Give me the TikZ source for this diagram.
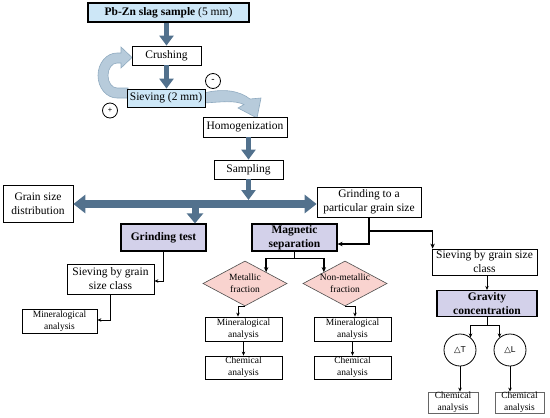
\documentclass[tikz,border=0pt]{standalone}
\usepackage{fontspec}
\setmainfont{Liberation Serif}[BoldFont={Liberation Serif Bold}]
\newfontfamily\dejavu{DejaVu Sans}
\newfontfamily\lsans{Liberation Sans}
\usetikzlibrary{arrows.meta,shapes.geometric,calc}
\definecolor{dark}{HTML}{52718D}
\definecolor{lblue}{HTML}{CDE7F7}
\definecolor{lav}{HTML}{D3D1EA}
\definecolor{pinkf}{HTML}{F9D3CF}
\definecolor{curvef}{HTML}{B7CBDB}
\definecolor{curved}{HTML}{8FAAC0}
\newcommand{\bigf}{\fontsize{11.5}{14}\selectfont}
\newcommand{\smallf}{\fontsize{9.5}{12}\selectfont}
\tikzset{
  box/.style={draw, line width=0.8pt, fill=white, inner sep=0pt, align=center, font=\bigf},
  sbox/.style={draw, line width=0.8pt, fill=white, inner sep=0pt, align=center, font=\smallf},
  gbox/.style={draw=black!60, line width=0.8pt, fill=white, inner sep=0pt, align=center, font=\smallf},
  purp/.style={box, fill=lav, line width=1.2pt, font=\bigf\bfseries},
  dia/.style={diamond, draw=black!70, line width=0.6pt, fill=pinkf, inner sep=0pt},
  circ/.style={circle, draw, line width=0.8pt, inner sep=0pt, minimum size=32pt, font=\lsans\fontsize{8.5}{10}\selectfont},
  pm/.style={circle, draw, line width=0.8pt, inner sep=0pt, minimum size=15pt, font=\lsans\fontsize{7.5}{8}\selectfont},
  fat/.style={draw=dark, line width=5pt, -{Triangle[width=14pt,length=10pt]}},
  fatter/.style={draw=dark, line width=7.5pt, {Triangle[width=18pt,length=12pt]}-{Triangle[width=18pt,length=12pt]}},
  fatdown/.style={draw=dark, line width=7pt, -{Triangle[width=16pt,length=10pt]}},
  conn/.style={draw, line width=1pt, -{Stealth[length=4pt,width=3.5pt]}},
  connb/.style={draw, line width=1.4pt, -{Stealth[length=5pt,width=4.5pt]}},
}
\begin{document}
\begin{tikzpicture}[x=1pt,y=-1pt]
\useasboundingbox (0,0) rectangle (550,418);
% curved light arrows (behind boxes)
\filldraw[fill=curvef, draw=curved, line width=0.6pt]
  (128,88) -- (117,88) arc[start angle=270, end angle=90, x radius=9pt, y radius=12.5pt]
  -- (121,63) -- (121,68) -- (132,57.5) -- (121,47) -- (121,53) -- (117,53)
  arc[start angle=90, end angle=270, x radius=19pt, y radius=22.5pt] -- (128,98) -- cycle;
\filldraw[fill=curvef, draw=curved, line width=0.6pt]
  (204,93) .. controls (224,88) and (240,91) .. (250,99) -- (261,98) -- (257,118)
  -- (238,108) -- (244,104.5) .. controls (234,100) and (222,102) .. (204,103) -- cycle;
% nodes
\node[box, fill=lblue, line width=1.5pt, minimum width=161pt, minimum height=19pt] (pb) at (168.5,12.5) {\textbf{Pb-Zn slag sample} (5 mm)};
\node[box, minimum width=69pt, minimum height=19pt] (crush) at (166.5,55.5) {Crushing};
\node[box, fill=lblue, minimum width=78pt, minimum height=18pt] (sieve) at (166,98) {Sieving (2 mm)};
\node[box, minimum width=84pt, minimum height=20pt] (homog) at (245,127) {Homogenization};
\node[box, minimum width=69pt, minimum height=19pt] (samp) at (248.5,169.5) {Sampling};
\node[box, minimum width=70pt, minimum height=37pt] (gsd) at (38,203.5) {Grain size\\distribution};
\node[box, minimum width=104pt, minimum height=30pt] (gpart) at (369,202) {Grinding to a\\particular grain size};
\node[purp, minimum width=85pt, minimum height=27pt] (gtest) at (163.5,237.5) {Grinding test};
\node[purp, minimum width=85pt, minimum height=27pt] (magsep) at (294.5,237.5) {Magnetic\\separation};
\node[box, minimum width=87pt, minimum height=30pt] (sievL) at (110.5,279) {Sieving by grain\\size class};
\node[sbox, minimum width=75pt, minimum height=24pt] (minL) at (59.5,321) {Mineralogical\\analysis};
\node[dia, minimum width=84pt, minimum height=45pt,
  label={[font=\smallf, align=center]center:Metallic\\fraction}] (metal) at (245,283.5) {};
\node[dia, minimum width=84pt, minimum height=45pt,
  label={[font=\smallf, align=center]center:Non-metallic\\fraction}] (nonmetal) at (345,283.5) {};
\node[sbox, minimum width=77pt, minimum height=24pt] (min1) at (243.5,329) {Mineralogical\\analysis};
\node[sbox, minimum width=77pt, minimum height=24pt] (min2) at (352.5,329) {Mineralogical\\analysis};
\node[sbox, minimum width=77pt, minimum height=23pt] (chem1) at (243.5,367.5) {Chemical\\analysis};
\node[sbox, minimum width=77pt, minimum height=23pt] (chem2) at (352.5,367.5) {Chemical\\analysis};
\node[box, minimum width=105pt, minimum height=26pt] (sievR) at (484.5,262) {Sieving by grain size\\class};
\node[purp, minimum width=100pt, minimum height=26pt] (grav) at (487,303.5) {Gravity\\concentration};
\node[circ] (dT) at (460,350) {{\dejavu △}T};
\node[circ] (dL) at (510,350) {{\dejavu △}L};
\node[gbox, minimum width=50pt, minimum height=21pt] (chem3) at (453,402.5) {Chemical\\analysis};
\node[gbox, minimum width=49pt, minimum height=21pt] (chem4) at (519.5,402.5) {Chemical\\analysis};
\node[pm] (plus) at (110,110.5) {+};
\node[pm, font=\lsans\fontsize{10}{10}\selectfont] (minus) at (213,81) {-};
% thick arrows
\draw[fat] (pb.south -| crush.south) -- (crush.north);
\draw[fat] (crush.south) -- (crush.south |- sieve.north);
\draw[fat] (homog.south -| samp.south) -- (samp.north);
\coordinate (barmid) at (248.5,204);
\coordinate (bartop) at (248.5,200);
\coordinate (gtdrop) at (195,204);
\draw[fatter] (gsd.east |- barmid) -- (gpart.west |- barmid);
\draw[fat] (samp.south) -- (bartop);
\draw[fatdown] (gtdrop) -- (gtdrop |- gtest.north);
% thin connectors
\coordinate (gp1) at (370,231);
\draw[connb] (gpart.south) |- ($(magsep.east)+(0,6.5)$);
\draw[connb] (gp1) -| ($(sievR.north west)+(1,0)$);
\draw[conn] (sievR.south -| grav.north) -- (grav.north);
\draw[conn] (grav.south) -- ++(0,8) coordinate (gs) -| (dT.50);
\draw[conn] (gs) -| (dL.130);
\draw[conn] (dT.south) -- (dT.south |- chem3.north);
\draw[conn] (dL.south) -- (dL.south |- chem4.north);
\draw[connb] (magsep.south) -- ++(0,7) coordinate (ms) -| (metal.north east);
\draw[connb] (ms) -| (nonmetal.north west);
\draw[conn] (metal.south) -| ($(min1.north)+(-5.5,0)$);
\draw[conn] (nonmetal.south) -| ($(min2.north)+(2.5,0)$);
\draw[conn] (min1.south) -- (chem1.north);
\draw[conn] (min2.south) -- (chem2.north);
\draw[conn] (gtest.south) |- ($(sievL.east)+(0,2)$);
\draw[conn] (sievL.south) |- ($(minL.east)+(0,-1)$);
\end{tikzpicture}
\end{document}
